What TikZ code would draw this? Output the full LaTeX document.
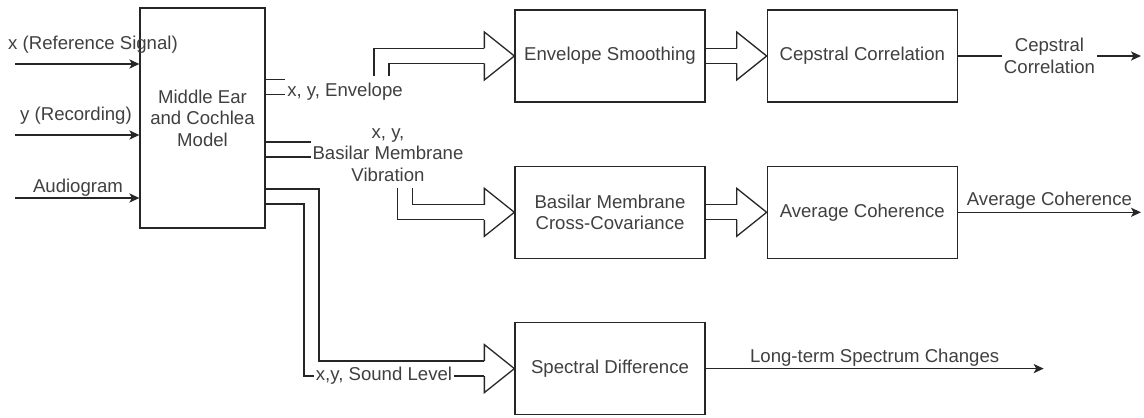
\documentclass[tikz,border=0pt]{standalone}
\usepackage{fontspec}
\setmainfont{Liberation Sans}
\usepackage{tikz}
\usetikzlibrary{arrows.meta, positioning, calc, backgrounds}
\colorlet{colorLine}{black!85}
\colorlet{colorText}{black!75}
\tikzset{block/.style={draw=colorLine, fill=white, line width=0.65pt, minimum width=95pt, minimum height=46pt, align=center}}
\tikzset{wire/.style={draw=colorLine, line width=0.65pt}}
\tikzset{hollow/.style={draw=colorLine, line width=0.65pt, double=white, double distance=6.85pt}}
\tikzset{lbl/.style={fill=white, inner sep=1pt, align=center}}
\newcommand{\hollowtip}[1]{\draw[wire] ($(#1)+(-30,-7.5)$) -- ++(0,-16.5) -- (#1) -- ($(#1)+(-30,24)$) -- ++(0,-16.5);}

\begin{document}
\begin{tikzpicture}[x=0.5pt, y=-0.5pt, >={Stealth[length=5pt, width=4.6pt, inset=1.3pt]}, node distance=31.5pt and 30.5pt, every node/.style={font=\fontsize{9.3pt}{10.7pt}\selectfont, text=colorText}]
\useasboundingbox (0,0) rectangle (1144,417);

\node[block, minimum width=62.5pt, minimum height=110pt] (mid) at (202.5,118) {Middle Ear\\and Cochlea\\Model};
\node[block] (env) at (610,56) {Envelope Smoothing};
\node[block, right=of env] (cep) {Cepstral Correlation};
\node[block, below=of env] (bmc) {Basilar Membrane\\Cross-Covariance};
\node[block, right=of bmc] (avg) {Average Coherence};
\node[block, below=of bmc] (spec) {Spectral Difference};

% inputs
\coordinate (xin) at (15,64);
\coordinate (yin) at (15,135);
\coordinate (ain) at (15,198);
\draw[->, wire] (xin) -- (xin -| mid.west);
\draw[->, wire] (yin) -- (yin -| mid.west);
\draw[->, wire] (ain) -- (ain -| mid.west);
\node[anchor=base] (xlbl) at (93,50) {x (Reference Signal)};
\node[anchor=base] (ylbl) at (76,120) {y (Recording)};
\node[anchor=base] (albl) at (78,192) {Audiogram};

% hollow arrows
\begin{scope}[on background layer]
\draw[hollow] ($(mid.north east)+(0,79.5)$) -| ($(env.west)+(-133,0)$) -- ($(env.west)+(-30,0)$);
\hollowtip{env.west}
\draw[hollow] ($(mid.north east)+(0,142)$) -| ($(bmc.west)+(-109.5,0)$) -- ($(bmc.west)+(-30,0)$);
\hollowtip{bmc.west}
\draw[hollow] ($(mid.north east)+(0,189)$) -| ($(spec.west)+(-203,0)$) -- ($(spec.west)+(-30,0)$);
\hollowtip{spec.west}
\draw[hollow] (env.east) -- ($(cep.west)+(-30,0)$);
\hollowtip{cep.west}
\draw[hollow] (bmc.east) -- ($(avg.west)+(-30,0)$);
\hollowtip{avg.west}
\end{scope}
\node[lbl, anchor=base, text height=9.5pt] (envlbl) at (345,97) {x, y, Envelope};
\node[lbl, minimum height=33pt] (bmlbl) at (388,155) {x, y,\\Basilar Membrane\\Vibration};
\node[lbl, anchor=base] (sndlbl) at (384,380) {x,y, Sound Level};

% outputs
\coordinate (cepend) at ($(cep.east)+(183,0)$);
\coordinate (avgend) at ($(avg.east)+(183,0)$);
\coordinate (specend) at ($(spec.east)+(338,0)$);
\draw[->, wire] (cep.east) -- node[lbl] (ceplbl) {Cepstral\\Correlation} (cepend);
\draw[->, wire] (avg.east) -- node[above, inner sep=1pt] (avglbl) {Average Coherence} (avgend);
\draw[->, wire] (spec.east) -- node[above, inner sep=1pt] (speclbl) {Long-term Spectrum Changes} (specend);
\end{tikzpicture}
\end{document}
